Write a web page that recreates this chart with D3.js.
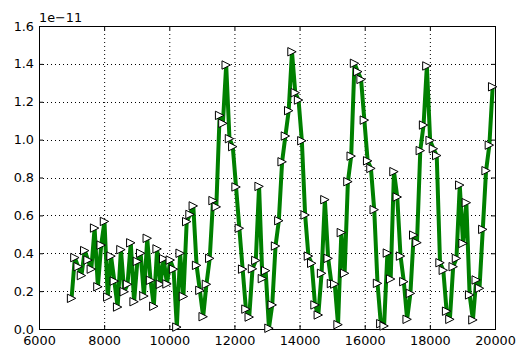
<!DOCTYPE html>
<html>
<head>
<meta charset="utf-8">
<script src="https://cdn.jsdelivr.net/npm/d3@7"></script>
<style>
  body { margin: 0; background: #fff; }
  svg text { font-family: "DejaVu Sans", sans-serif; font-size: 12.8px; fill: #000; }
</style>
</head>
<body>
<svg id="chart" width="516" height="347"></svg>
<script>
// sample positions (x) and signal values (y, in units of 1e-11)
const xValues = [
  7000, 7101, 7202, 7303, 7404, 7505, 7606, 7707, 7808, 7909,
  8010, 8111, 8212, 8313, 8414, 8515, 8616, 8717, 8818, 8919,
  9020, 9121, 9222, 9323, 9424, 9525, 9626, 9727, 9828, 9929,
  10030, 10131, 10232, 10333, 10434, 10535, 10636, 10737, 10838, 10939,
  11040, 11141, 11242, 11343, 11444, 11545, 11646, 11747, 11848, 11949,
  12050, 12151, 12252, 12353, 12454, 12555, 12656, 12757, 12858, 12959,
  13060, 13161, 13262, 13363, 13464, 13565, 13666, 13767, 13868, 13969,
  14070, 14171, 14272, 14373, 14474, 14575, 14676, 14777, 14878, 14979,
  15080, 15181, 15282, 15383, 15484, 15585, 15686, 15787, 15888, 15989,
  16090, 16191, 16292, 16393, 16494, 16595, 16696, 16797, 16898, 16999,
  17100, 17201, 17302, 17403, 17504, 17605, 17706, 17807, 17908, 18009,
  18110, 18211, 18312, 18413, 18514, 18615, 18716, 18817, 18918, 19019,
  19120, 19221, 19322, 19423, 19524, 19625, 19726, 19827, 19928
];
const yValues = [
  0.162, 0.377, 0.329, 0.282, 0.414, 0.364, 0.316, 0.533, 0.223, 0.443,
  0.568, 0.169, 0.385, 0.253, 0.116, 0.419, 0.197, 0.236, 0.455, 0.144,
  0.357, 0.400, 0.174, 0.479, 0.257, 0.120, 0.423, 0.236, 0.371, 0.238,
  0.364, 0.316, 0.010, 0.400, 0.172, 0.567, 0.605, 0.650, 0.336, 0.204,
  0.065, 0.236, 0.373, 0.678, 0.645, 1.128, 1.086, 1.394, 1.005, 0.963,
  0.750, 0.532, 0.316, 0.105, 0.063, 0.318, 0.362, 0.753, 0.266, 0.308,
  0.004, 0.127, 0.438, 0.572, 0.883, 1.019, 1.153, 1.464, 1.248, 1.209,
  0.994, 0.602, 0.385, 0.347, 0.127, 0.074, 0.294, 0.683, 0.373, 0.240,
  0.237, 0.023, 0.509, 0.294, 0.778, 0.913, 1.403, 1.359, 1.318, 1.103,
  0.888, 0.848, 0.630, 0.241, 0.028, 0.016, 0.401, 0.264, 0.831, 0.697,
  0.385, 0.250, 0.051, 0.188, 0.496, 0.456, 0.942, 1.077, 1.389, 0.996,
  0.952, 0.916, 0.350, 0.310, 0.094, 0.051, 0.329, 0.373, 0.760, 0.452,
  0.667, 0.180, 0.048, 0.259, 0.215, 0.526, 0.836, 0.971, 1.279
];
const xTicks = [6000, 8000, 10000, 12000, 14000, 16000, 18000, 20000];
const yTicks = [0.0, 0.2, 0.4, 0.6, 0.8, 1.0, 1.2, 1.4, 1.6];
const offsetLabel = "1e\u221211";

const margin = { top: 26, right: 21, bottom: 18, left: 39 };
const width = 516 - margin.left - margin.right;
const height = 347 - margin.top - margin.bottom;

const svg = d3.select("#chart");
const g = svg.append("g").attr("transform", `translate(${margin.left},${margin.top})`);

const x = d3.scaleLinear().domain([6000, 20000]).range([0, width]);
const y = d3.scaleLinear().domain([0, 1.6]).range([height, 0]);

// dotted grid
g.append("g").selectAll("line").data(xTicks.slice(1, -1)).enter().append("line")
  .attr("x1", d => x(d) + 0.5).attr("x2", d => x(d) + 0.5)
  .attr("y1", 0).attr("y2", height)
  .attr("stroke", "#000").attr("stroke-width", 1).attr("stroke-dasharray", "1,3");
g.append("g").selectAll("line").data(yTicks.slice(1, -1)).enter().append("line")
  .attr("y1", d => Math.round(y(d)) + 0.5).attr("y2", d => Math.round(y(d)) + 0.5)
  .attr("x1", 0).attr("x2", width)
  .attr("stroke", "#000").attr("stroke-width", 1).attr("stroke-dasharray", "1,3");

// axes (classic style: ticks inward on all sides)
const fmtY = d3.format(".1f");
const bottomAxis = d3.axisBottom(x).tickValues(xTicks).tickFormat(d3.format("d")).tickSizeInner(-4).tickSizeOuter(0).tickPadding(8);
const leftAxis = d3.axisLeft(y).tickValues(yTicks).tickFormat(fmtY).tickSizeInner(-4).tickSizeOuter(0).tickPadding(8);
const topAxis = d3.axisTop(x).tickValues(xTicks).tickFormat("").tickSizeInner(-4).tickSizeOuter(0);
const rightAxis = d3.axisRight(y).tickValues(yTicks).tickFormat("").tickSizeInner(-4).tickSizeOuter(0);

const gx = g.append("g").attr("transform", `translate(0,${height})`).call(bottomAxis);
const gy = g.append("g").call(leftAxis);
g.append("g").call(topAxis);
g.append("g").attr("transform", `translate(${width},0)`).call(rightAxis);
g.selectAll(".domain").remove();
g.selectAll(".tick line").attr("stroke", "#000");
gx.selectAll("text").attr("font-size", null).attr("font-family", null).attr("dy", "0.71em").attr("y", 7);
gy.selectAll("text").attr("font-size", null).attr("font-family", null).attr("x", -5);

// frame
g.append("rect").attr("x", 0.5).attr("y", 0.5).attr("width", width).attr("height", height)
  .attr("fill", "none").attr("stroke", "#000").attr("stroke-width", 1);

// offset text
svg.append("text").attr("x", margin.left).attr("y", 22).text(offsetLabel);

const pts = xValues.map((v, i) => [v, yValues[i]]);

// line
g.append("path").datum(pts)
  .attr("fill", "none").attr("stroke", "#008000").attr("stroke-width", 4)
  .attr("stroke-linejoin", "round")
  .attr("d", d3.line().x(d => x(d[0])).y(d => y(d[1])));

// triangle-right markers
const s = 4.2;
g.append("g").selectAll("path").data(pts).enter().append("path")
  .attr("transform", d => `translate(${x(d[0])},${y(d[1])})`)
  .attr("d", `M${s},0L${-s},${-s}L${-s},${s}Z`)
  .attr("fill", "#fff").attr("stroke", "#000").attr("stroke-width", 1)
  .attr("stroke-linejoin", "miter");
</script>
</body>
</html>
